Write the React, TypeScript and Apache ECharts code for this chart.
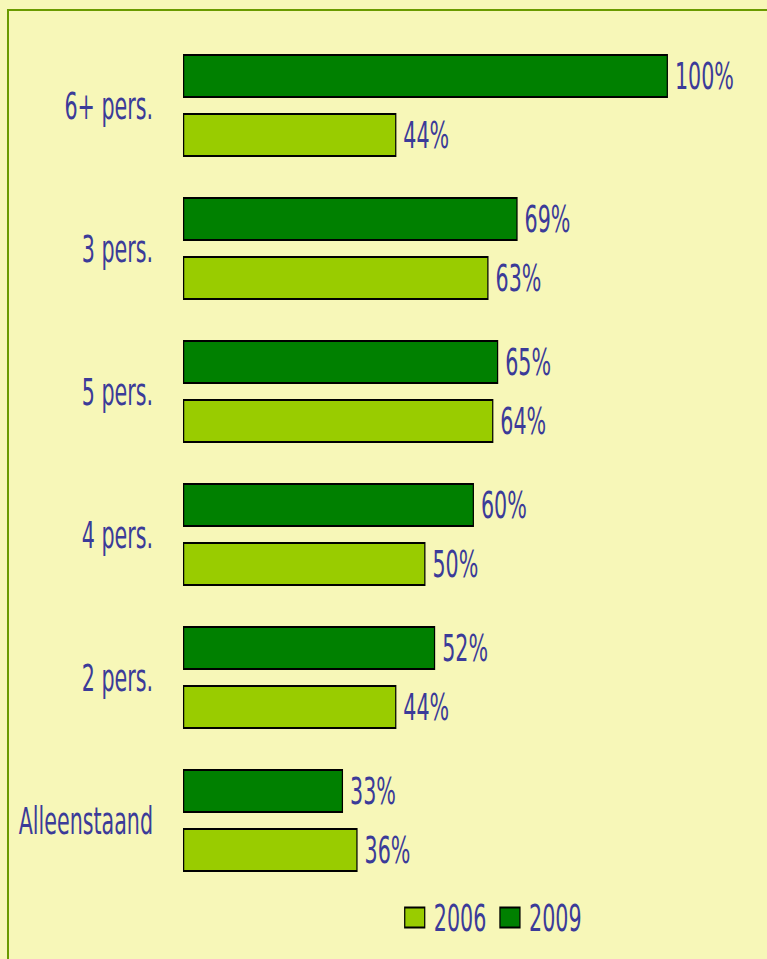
import React, { useEffect, useRef } from "react";
import * as echarts from "echarts";

const categories = ["Alleenstaand", "2 pers.", "4 pers.", "5 pers.", "3 pers.", "6+ pers."];
const values2006 = [36, 44, 50, 64, 63, 44];
const values2009 = [33, 52, 60, 65, 69, 100];
const seriesNames = ["2006", "2009"];

const FONT = '"DejaVu Sans Condensed", "Liberation Sans Narrow", "Roboto", sans-serif';
const TEXT = "#3b3b99";
const FS = 37;
// horizontal condensing factor applied to the whole chart via CSS (narrow font look)
const S = 0.62;
const W = 767 / S;
const H = 959;
const px = (v: number) => v / S;

export default function App() {
  const ref = useRef<HTMLDivElement>(null);
  useEffect(() => {
    document.body.style.margin = "0";
    document.body.style.background = "#f7f7b8";
    document.body.style.overflow = "hidden";
    const chart = echarts.init(ref.current!, null, { renderer: "svg" });
    const label = {
      show: true,
      position: "right",
      distance: px(7),
      formatter: "{c}%",
      color: TEXT,
      fontFamily: FONT,
      fontSize: FS,
    };
    chart.setOption({
      animation: false,
      backgroundColor: "#f7f7b8",
      graphic: [
        {
          type: "line",
          shape: { x1: px(8), y1: 10, x2: W + 10, y2: 10 },
          style: { stroke: "#6a9a00", lineWidth: 2 },
          silent: true,
        },
        {
          type: "line",
          shape: { x1: px(8), y1: 9, x2: px(8), y2: H + 10 },
          style: { stroke: "#6a9a00", lineWidth: px(2) },
          silent: true,
        },
      ],
      grid: {
        left: px(183),
        right: px(99),
        top: 34,
        bottom: 67,
        containLabel: false,
        outerBoundsMode: "none",
      },
      xAxis: {
        type: "value",
        min: 0,
        max: 100,
        show: false,
      },
      yAxis: {
        type: "category",
        data: categories,
        axisLine: { show: false },
        axisTick: { show: false },
        axisLabel: { color: TEXT, fontFamily: FONT, fontSize: FS, margin: px(30) },
      },
      legend: {
        bottom: 18,
        left: px(401),
        itemWidth: px(20),
        itemHeight: 20,
        itemGap: px(13),
        icon: "rect",
        textStyle: { color: TEXT, fontFamily: FONT, fontSize: FS, padding: [0, 0, 0, px(6)] },
        data: seriesNames,
      },
      series: [
        {
          name: seriesNames[1],
          type: "bar",
          data: values2009,
          barWidth: 44,
          barGap: "34%",
          itemStyle: { color: "#008000", borderColor: "#000", borderWidth: 2 },
          label,
        },
        {
          name: seriesNames[0],
          type: "bar",
          data: values2006,
          barWidth: 44,
          barGap: "34%",
          itemStyle: { color: "#99cc00", borderColor: "#000", borderWidth: 2 },
          label,
        },
      ],
    });
    return () => chart.dispose();
  }, []);
  return (
    <div style={{ width: 767, height: H, overflow: "hidden" }}>
      <div
        ref={ref}
        style={{ width: W, height: H, transform: `scaleX(${S})`, transformOrigin: "0 0" }}
      />
    </div>
  );
}
